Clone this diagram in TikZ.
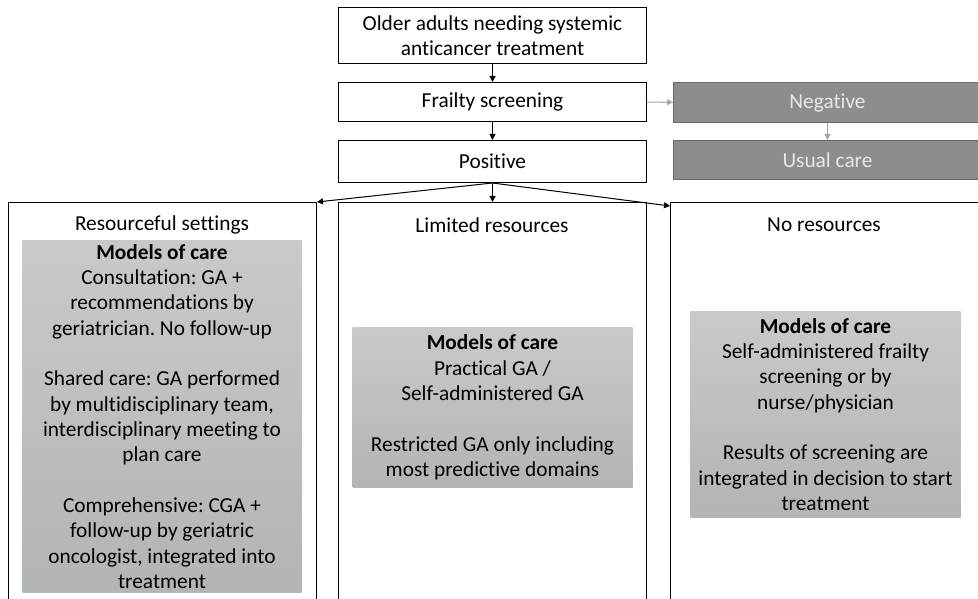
\documentclass[tikz,border=0pt]{standalone}
\usepackage{fontspec}
\setmainfont[Ligatures=NoCommon]{Carlito}
\usetikzlibrary{arrows.meta}
\frenchspacing

\definecolor{negfill}{RGB}{140,141,141}
\definecolor{negdraw}{RGB}{105,105,105}
\definecolor{negtext}{RGB}{232,232,232}
\definecolor{modeltop}{RGB}{201,201,201}
\definecolor{modelbot}{RGB}{178,181,181}
\definecolor{linkgrey}{RGB}{165,165,165}

\tikzset{every picture/.style={line width=0.75pt}}
\tikzset{
  flowbox/.style={draw, rectangle, inner sep=0pt, anchor=north west, align=center},
  negbox/.style={flowbox, draw=negdraw, fill=negfill, text=negtext},
  modelbox/.style={rectangle, inner sep=0pt, anchor=north west, align=center, top color=modeltop, bottom color=modelbot},
  tip/.style={-{Triangle[length=4.5pt,width=4.5pt]}},
  greytip/.style={tip, draw=linkgrey},
}

\begin{document}
\begin{tikzpicture}[x=0.75pt,y=0.75pt,yscale=-1,xscale=1,font=\fontsize{16}{19}\selectfont]
\useasboundingbox (0,0) rectangle (978,599);
\clip (0,0) rectangle (978,599);

%Shape: Rectangle
\node (older) [flowbox, minimum width=231pt, minimum height=42pt] at (338,7) {Older adults needing systemic\\anticancer treatment};
%Shape: Rectangle
\node (frailty) [flowbox, minimum width=231pt, minimum height=29.25pt] at (338,82) {Frailty screening};
%Shape: Rectangle
\node (positive) [flowbox, minimum width=231pt, minimum height=31.5pt] at (338,140) {Positive};
%Shape: Rectangle
\node (negative) [negbox, minimum width=231pt, minimum height=30pt] at (673,82) {Negative};
%Shape: Rectangle
\node (usual) [negbox, minimum width=231pt, minimum height=29.25pt] at (673,140) {Usual care};

%Shape: Rectangle
\node (resourceful) [flowbox, minimum width=231pt, minimum height=315pt] at (8,202) {};
%Shape: Rectangle
\node (limited) [flowbox, minimum width=231pt, minimum height=315pt] at (338,202) {};
%Shape: Rectangle
\node (nores) [flowbox, minimum width=240pt, minimum height=315pt] at (670,202) {};

% Text Node
\node (resourcefulhead) at (162,225) {Resourceful settings};
% Text Node
\node (limitedhead) at (492,225) {Limited resources};
% Text Node
\node (noreshead) at (824,225) {No resources};

%Shape: Rectangle
\node (resourcefulcare) [modelbox, minimum width=209.25pt, minimum height=264pt] at (22,240) {\textbf{Models of care}\\Consultation: GA +\\recommendations by\\geriatrician. No follow-up\\[19pt]Shared care: GA performed\\by multidisciplinary team,\\interdisciplinary meeting to\\plan care\\[19pt]Comprehensive: CGA +\\follow-up by geriatric\\oncologist, integrated into\\treatment};
%Shape: Rectangle
\node (limitedcare) [modelbox, minimum width=210pt, minimum height=120pt] at (352,327) {\textbf{Models of care}\\Practical GA /\\Self-administered GA\\[19pt]Restricted GA only including\\most predictive domains};
%Shape: Rectangle
\node (norescare) [modelbox, minimum width=202.5pt, minimum height=154.5pt] at (690,311) {\textbf{Models of care}\\Self-administered frailty\\screening or by\\nurse/physician\\[19pt]Results of screening are\\integrated in decision to start\\treatment};

%Straight Lines
\draw [tip] (older) -- (frailty);
\draw [tip] (frailty) -- (positive);
\draw [greytip] (frailty) -- (negative);
\draw [greytip] (negative) -- (usual);
\draw [tip] (positive.south) -- (resourceful.north east);
\draw [tip] (positive.south) -- (limited.north);
\draw [tip] (positive.south) -- ([yshift=3pt]nores.north west);

\end{tikzpicture}
\end{document}
